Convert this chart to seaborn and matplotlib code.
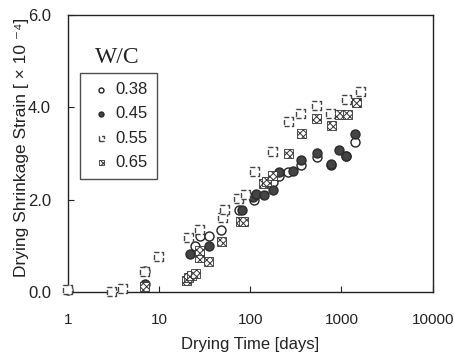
import numpy as np
import matplotlib
matplotlib.use("Agg")
import matplotlib.pyplot as plt
import seaborn as sns

# W/C = 0.38 (open circle)
days_038 = [1, 7, 25, 28, 35, 48, 75, 110, 180, 205, 260, 360, 540, 760, 1120, 1420]
strain_038 = [0.05, 0.45, 1.0, 1.2, 1.2, 1.35, 1.78, 2.0, 2.38, 2.5, 2.6, 2.75, 2.92, 2.75, 2.95, 3.25]

# W/C = 0.45 (filled circle)
days_045 = [7, 22, 35, 82, 108, 115, 142, 178, 205, 295, 365, 540, 760, 950, 1130, 1420]
strain_045 = [0.18, 0.83, 1.0, 1.78, 2.05, 2.13, 2.09, 2.2, 2.6, 2.62, 2.85, 3.0, 2.78, 3.08, 2.94, 3.42]

# W/C = 0.55 (dashed square)
days_055 = [1, 3, 4, 7, 10, 21, 28, 50, 52, 75, 88, 113, 176, 261, 360, 530, 750, 1130, 1610]
strain_055 = [0.05, 0.0, 0.08, 0.45, 0.77, 1.18, 1.35, 1.6, 1.78, 2.02, 2.1, 2.6, 3.03, 3.68, 3.86, 4.04, 3.86, 4.17, 4.33]

# W/C = 0.65 (hatched square)
days_065 = [7, 20, 21, 23, 25, 28, 28, 35, 48, 78, 85, 140, 150, 175, 262, 365, 540, 770, 960, 1180, 1460]
strain_065 = [0.12, 0.25, 0.3, 0.35, 0.4, 0.75, 0.9, 0.65, 1.1, 1.52, 1.52, 2.35, 2.4, 2.53, 3.0, 3.43, 3.75, 3.6, 3.84, 3.84, 4.1]

wc_labels = ["0.38", "0.45", "0.55", "0.65"]
x_ticks = [1, 10, 100, 1000, 10000]
y_ticks = [0, 2, 4, 6]

sns.set_style("ticks")
plt.rcParams["font.family"] = ["Liberation Sans", "DejaVu Sans"]
plt.rcParams["hatch.linewidth"] = 0.7

ink = "#222222"

fig = plt.figure(figsize=(4.54, 3.55), dpi=100)
ax = fig.add_axes([0.149, 0.178, 0.804, 0.780])

common = dict(ax=ax, s=42, clip_on=False, zorder=3)

sns.scatterplot(x=days_038, y=strain_038, marker="o", facecolor="white",
                edgecolor=ink, linewidth=1.0, label=wc_labels[0], **common)
sns.scatterplot(x=days_045, y=strain_045, marker="o", color="#444444",
                edgecolor="#2a2a2a", linewidth=1.0, label=wc_labels[1], **common)
sns.scatterplot(x=days_055, y=strain_055, marker="s", facecolor="white",
                edgecolor="#444444", linewidth=1.0, linestyle="--",
                label=wc_labels[2], **common)
sns.scatterplot(x=days_065, y=strain_065, marker="s", facecolor="white",
                edgecolor="#333333", linewidth=0.6, hatch="xxxxx",
                label=wc_labels[3], **common)

ax.set_xscale("log")
ax.set_xlim(1, 10000)
ax.set_ylim(0, 6.0)
ax.set_xticks(x_ticks)
ax.set_xticklabels([str(t) for t in x_ticks])
ax.xaxis.set_minor_locator(matplotlib.ticker.NullLocator())
ax.set_yticks(y_ticks)
ax.set_yticklabels([f"{t:.1f}" for t in y_ticks])

ax.tick_params(axis="both", direction="in", length=4, width=0.8, colors=ink)
ax.tick_params(axis="x", pad=15, labelsize=11)
ax.tick_params(axis="y", pad=12, labelsize=12)
for sp in ax.spines.values():
    sp.set_visible(True)
    sp.set_color(ink)
    sp.set_linewidth(1.0)

ax.set_xlabel("Drying Time [days]", fontsize=12, color=ink)
ax.set_ylabel("Drying Shrinkage Strain [ × 10 ⁻⁴]", fontsize=12.5, color=ink)
ax.xaxis.set_label_coords(0.5, -0.165)
ax.yaxis.set_label_coords(-0.105, 0.52)

ax.text(0.075, 0.845, "W/C", transform=ax.transAxes, fontsize=17,
        family="Liberation Serif", color=ink, va="center", ha="left")

leg = ax.legend(loc="upper left", bbox_to_anchor=(0.035, 0.79),
                frameon=True, fancybox=False, markerscale=0.55,
                fontsize=12, handletextpad=0.15, handlelength=1.4,
                borderpad=0.55, borderaxespad=0, labelspacing=0.55)
leg.get_frame().set_edgecolor(ink)
leg.get_frame().set_linewidth(1.0)
for t in leg.get_texts():
    t.set_color(ink)

fig.savefig("out.png", dpi=100)
